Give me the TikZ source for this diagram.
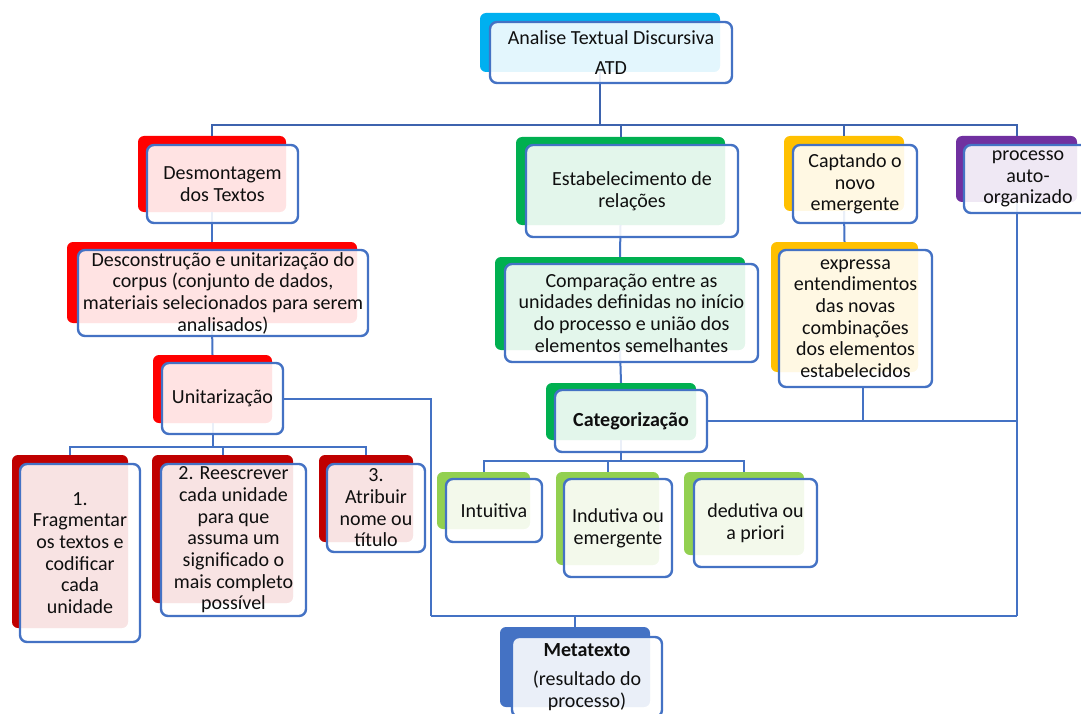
\documentclass[tikz,border=0pt]{standalone}
\usepackage{fontspec}
\setmainfont{Carlito}
\usetikzlibrary{fit}
\definecolor{lineblue}{HTML}{4472C4}
\definecolor{busblue}{HTML}{3D63AE}
\definecolor{txt}{HTML}{0F0F0F}
\definecolor{cyanB}{HTML}{00B0F0}
\definecolor{redB}{HTML}{FF0000}
\definecolor{darkredB}{HTML}{C00000}
\definecolor{greenB}{HTML}{00B050}
\definecolor{lightgreenB}{HTML}{92D050}
\definecolor{yellowB}{HTML}{FFC000}
\definecolor{purpleB}{HTML}{7030A0}
\definecolor{blueB}{HTML}{4472C4}
\tikzset{
  back/.style={fill=#1, draw=none, rounded corners=6pt, inner sep=0pt},
  front/.style={draw=lineblue, line width=2.4pt, rounded corners=7pt,
    fill=white, fill opacity=0.89, text opacity=1, text=txt,
    align=center, inner sep=0pt, outer sep=0pt,
    font=\fontsize{20}{21.7}\selectfont},
  size/.style 2 args={minimum width=#1, minimum height=#2},
  conn/.style={draw=lineblue, line width=2pt},
  topconn/.style={draw=busblue, line width=2pt},
}
\begin{document}
\begin{tikzpicture}[x=1pt,y=-1pt]
\useasboundingbox (0,0) rectangle (1081,714);
\clip (0,0) rectangle (1081,714);

% bus levels
\coordinate (topbus) at (0,125);
\coordinate (unitbus) at (0,447);
\coordinate (catbus) at (0,461);
\coordinate (basebus) at (0,616);
\coordinate (leftrail) at (431,0);
\coordinate (exptap) at (863,0);

% ---------- back plates ----------
\node[back=cyanB, fit={(480,13) (720,72)}] (atdB) {};
\node[back=redB, fit={(138,136) (286,212)}] (desB) {};
\node[back=redB, fit={(67,242) (357,323)}] (deconB) {};
\node[back=redB, fit={(153,355) (272,423)}] (unitB) {};
\node[back=darkredB, fit={(12,455) (128,628)}] (oneB) {};
\node[back=darkredB, fit={(152,455) (293,603)}] (twoB) {};
\node[back=darkredB, fit={(319,455) (413,542)}] (threeB) {};
\node[back=greenB, fit={(516,137) (725,225)}] (estB) {};
\node[back=greenB, fit={(495,257) (745,350)}] (compB) {};
\node[back=greenB, fit={(546,383) (696,440)}] (catB) {};
\node[back=lightgreenB, fit={(437,472) (530,529)}] (intB) {};
\node[back=lightgreenB, fit={(556,472) (659,565)}] (indB) {};
\node[back=lightgreenB, fit={(684,472) (804,555)}] (dedB) {};
\node[back=yellowB, fit={(784,136) (904,211)}] (capB) {};
\node[back=yellowB, fit={(771,242) (918,372)}] (expB) {};
\node[back=purpleB, fit={(956,136) (1077,202)}] (procB) {};
\node[back=blueB, fit={(500,627) (650,707)}] (metaB) {};

% ---------- connectors ----------
\draw[topconn] (atdB.south) -- (atdB |- topbus);
\draw[topconn] (desB.north) -- (desB |- topbus) -- (procB |- topbus) -- (procB.north);
\draw[topconn] (estB |- topbus) -- (estB.north);
\draw[topconn] (capB |- topbus) -- (capB.north);

\draw[conn] (desB.south) -- (deconB.north);
\draw[conn] (deconB.south) -- (unitB.north);
\draw[conn] (unitB.south) -- (unitB |- unitbus);
\draw[conn] (oneB.north) -- (oneB |- unitbus) -- (threeB |- unitbus) -- (threeB.north);
\draw[conn] (twoB |- unitbus) -- (twoB.north);

\draw[conn] (estB.south) -- (compB.north);
\draw[conn] (compB.south) -- (catB.north);
\draw[conn] (catB.south) -- (catB |- catbus);
\draw[conn] (intB.north) -- (intB |- catbus) -- (dedB |- catbus) -- (dedB.north);
\draw[conn] (indB |- catbus) -- (indB.north);

\draw[conn] (capB.south) -- (expB.north);
\draw[conn] (procB.south) -- (procB |- basebus);
\draw[conn] (leftrail |- basebus) -- (procB |- basebus);
\draw[conn] (metaB |- basebus) -- (metaB.north);

% ---------- front boxes ----------
\node[front, size={242}{61}] (atdF) at (611,52.5) {Analise Textual Discursiva\\[8pt]ATD};
\node[front, size={151}{78}] (desF) at (222.5,184) {Desmontagem\\dos Textos};
\node[front, size={290}{86}] (deconF) at (223,293) {Desconstrução e unitarização do\\corpus (conjunto de dados,\\materiais selecionados para serem\\analisados)};
\node[front, size={121}{71}] (unitF) at (222.5,398.5) {Unitarização};
\node[front, size={120}{178}] (oneF) at (80,553) {1.\\Fragmentar\\os textos e\\codificar\\cada\\unidade};
\node[front, size={145}{152}] (twoF) at (233.5,540) {2. Reescrever\\cada unidade\\para que\\assuma um\\significado o\\mais completo\\possível};
\node[front, size={98}{88}] (threeF) at (376,508) {3.\\Atribuir\\nome ou\\título};
\node[front, size={212}{92}] (estF) at (632,191) {Estabelecimento de\\relações};
\node[front, size={253}{98}] (compF) at (631.5,313) {Comparação entre as\\unidades definidas no início\\do processo e união dos\\elementos semelhantes};
\node[front, size={152}{62}] (catF) at (631,421) {\textbf{Categorização}};
\node[front, size={96}{63}] (intF) at (494,510.5) {Intuitiva};
\node[front, size={108}{98}] (indF) at (618,528) {Indutiva ou\\emergente};
\node[front, size={123}{88}] (dedF) at (755.5,523) {dedutiva ou\\a priori};
\node[front, size={124}{78}] (capF) at (855,184) {Captando o\\novo\\emergente};
\node[front, size={153}{137}] (expF) at (855.5,318.5) {expressa\\entendimentos\\das novas\\combinações\\dos elementos\\estabelecidos};
\node[front, size={128}{68}] (procF) at (1028,179) {processo\\auto-\\organizado};
\node[front, size={150}{80}] (metaF) at (587,677) {\textbf{Metatexto}\\[8pt](resultado do\\processo)};

% side links into the right-hand rail
\draw[conn] (unitF.east) -- (leftrail |- unitF.east) -- (leftrail |- basebus);
\draw[conn] (catF.east) -- (procB |- catF.east);
\draw[conn] (exptap |- expF.south) -- (exptap |- catF.east);
\end{tikzpicture}
\end{document}
